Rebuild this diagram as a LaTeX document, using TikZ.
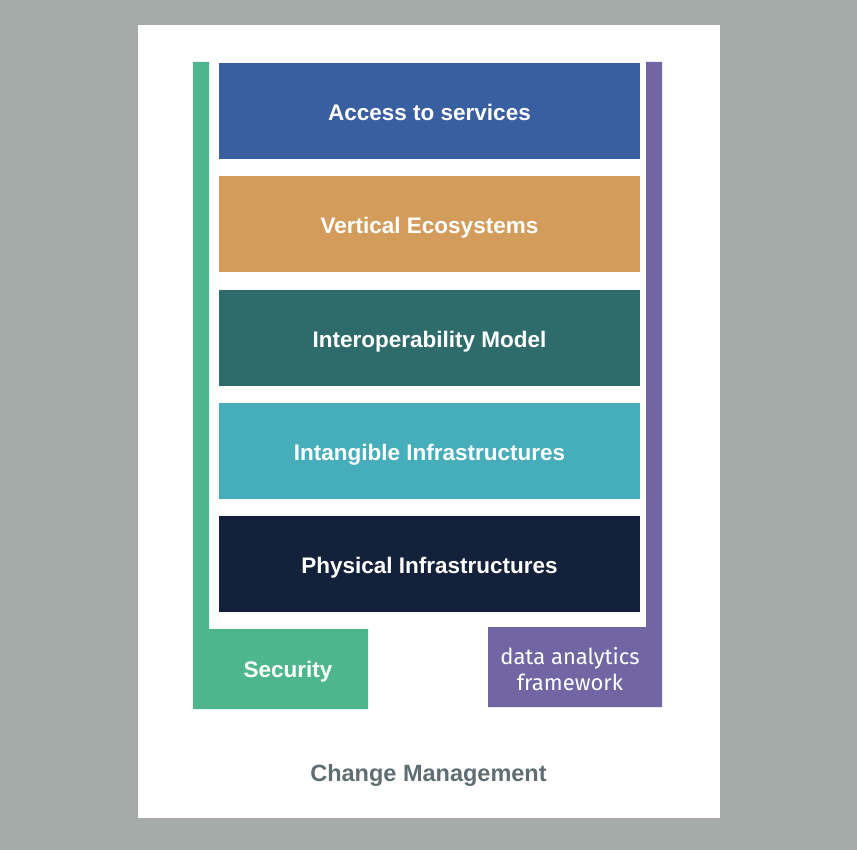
\documentclass[tikz,border=0pt]{standalone}
\usepackage{fontspec}
\setmainfont{Liberation Sans}
\newfontfamily\dafont{Fira Sans}
\usetikzlibrary{positioning}

\definecolor{bggray}{HTML}{A5ABA8}
\definecolor{accessblue}{HTML}{3A5FA0}
\definecolor{vertorange}{HTML}{D39C5B}
\definecolor{interteal}{HTML}{2E6B6B}
\definecolor{intangcyan}{HTML}{46ADBA}
\definecolor{physnavy}{HTML}{14213A}
\definecolor{secgreen}{HTML}{4DB68C}
\definecolor{dapurple}{HTML}{7166A3}
\definecolor{cmgray}{HTML}{5E6E72}

\begin{document}
\begin{tikzpicture}[
    x=1pt, y=-1pt,
    layer/.style = {fill=#1, minimum width=421pt, minimum height=96pt,
                    inner sep=0pt, text=white,
                    text height=19pt, text depth=0pt,
                    font=\fontsize{22.5}{27}\selectfont\bfseries},
    lbl/.style   = {text=white, inner sep=0pt,
                    text height=19pt, text depth=0pt,
                    font=\fontsize{22.5}{27}\selectfont\bfseries},
    dalbl/.style = {text=white, align=center, inner sep=0pt,
                    font=\fontsize{22}{26}\selectfont\dafont}
  ]
  % background and white sheet
  \fill[bggray] (0,0) rectangle (857,850);
  \fill[white] (138,25) rectangle (720,818);
  \useasboundingbox (0,0) rectangle (857,850);

  %–––– side frames ––––
  \fill[secgreen] (193,62) -- (209,62) -- (209,629) -- (368,629)
      -- (368,709) -- (193,709) -- cycle;
  \fill[dapurple] (646,62) -- (662,62) -- (662,707) -- (488,707)
      -- (488,627) -- (646,627) -- cycle;

  %–––– layers ––––
  \node[layer=accessblue] (ACC) at (429.5,111)   {Access to services};
  \node[layer=vertorange] (VER) at (429.5,224.5) {Vertical Ecosystems};
  \node[layer=interteal]  (INT) at (429.5,338)   {Interoperability Model};
  \node[layer=intangcyan] (ITG) at (429.5,451)   {Intangible Infrastructures};
  \node[layer=physnavy]   (PHY) at (429.5,564)   {Physical Infrastructures};

  %–––– frame labels ––––
  \node[lbl] (SEC) at (288,667.5) {Security};
  \node[dalbl] (DAF) at (570,669) {data analytics\\framework};
  \node[lbl, text=cmgray, font=\fontsize{23.5}{28}\selectfont\bfseries]
      (CHM) at (428.5,772) {Change Management};
\end{tikzpicture}
\end{document}
